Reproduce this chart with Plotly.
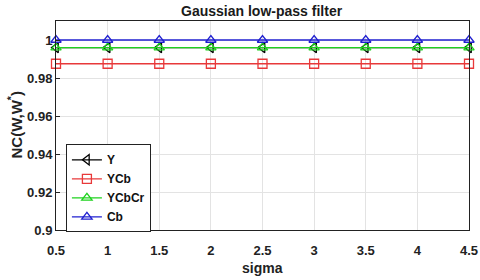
import plotly.graph_objects as go

sigma = [0.5, 1, 1.5, 2, 2.5, 3, 3.5, 4, 4.5]
nc_Y = [0.996] * 9
nc_YCb = [0.9875] * 9
nc_YCbCr = [0.996] * 9
nc_Cb = [1.0] * 9

x_ticks = [0.5, 1, 1.5, 2, 2.5, 3, 3.5, 4, 4.5]
x_ticktext = ["0.5", "1", "1.5", "2", "2.5", "3", "3.5", "4", "4.5"]
y_ticks = [0.9, 0.92, 0.94, 0.96, 0.98, 1.0]
y_ticktext = ["0.9", "0.92", "0.94", "0.96", "0.98", "1"]

series = [
    ("Y", nc_Y, "#000000", "triangle-left-open"),
    ("YCb", nc_YCb, "#e8393a", "square-open"),
    ("YCbCr", nc_YCbCr, "#1ed21e", "triangle-up-open"),
    ("Cb", nc_Cb, "#2020d0", "triangle-up-open"),
]

fig = go.Figure()
for name, vals, col, sym in series:
    fig.add_trace(go.Scatter(
        x=sigma, y=vals, name=name, mode="lines+markers",
        line=dict(color=col, width=1.3),
        marker=dict(symbol=sym, size=9, color=col, line=dict(width=1.3, color=col)),
        cliponaxis=False,
    ))

font_family = "Liberation Sans, Arial, sans-serif"
fig.update_layout(
    width=480, height=280,
    margin=dict(l=56, r=11, t=21, b=50, autoexpand=False),
    paper_bgcolor="white", plot_bgcolor="white",
    title=dict(text="<b>Gaussian low-pass filter</b>", x=0.545, xanchor="center",
               y=0.962, yanchor="middle", font=dict(family=font_family, size=14, color="#1a1a1a")),
    font=dict(family=font_family, color="#1a1a1a"),
    showlegend=True,
    legend=dict(x=0.024, y=0.41, xanchor="left", yanchor="top",
                bgcolor="white", bordercolor="#222", borderwidth=1,
                font=dict(family=font_family, size=12, color="#111", weight="bold"),
                tracegroupgap=0, itemwidth=30),
)
fig.update_xaxes(
    range=[0.5, 4.5], tickvals=x_ticks, ticktext=x_ticktext,
    showgrid=True, gridcolor="#e3e3e3", gridwidth=1,
    showline=True, linecolor="#222", linewidth=1, mirror=True,
    ticks="outside", ticklen=8, tickcolor="rgba(0,0,0,0)",
    tickfont=dict(family=font_family, size=13, color="#222", weight="bold"),
    zeroline=False, automargin=False,
)
fig.update_yaxes(
    range=[0.9, 1.01], tickvals=y_ticks, ticktext=y_ticktext,
    showgrid=True, gridcolor="#e3e3e3", gridwidth=1,
    showline=True, linecolor="#222", linewidth=1, mirror=True,
    ticks="inside", ticklen=4, tickcolor="#222",
    tickfont=dict(family=font_family, size=13, color="#222", weight="bold"),
    zeroline=False, automargin=False,
)
fig.add_annotation(text="<b>sigma</b>", xref="paper", yref="paper",
                   x=0.5, y=-38 / 209, xanchor="center", yanchor="middle", showarrow=False,
                   font=dict(family=font_family, size=14, color="#222"))
fig.add_annotation(text="<b>NC(W,W<sup>*</sup>)</b>", xref="paper", yref="paper",
                   x=-41 / 413, y=0.5, xanchor="center", yanchor="middle", showarrow=False,
                   textangle=-90, font=dict(family=font_family, size=15, color="#222"))
fig.write_html("out.html", config={"displayModeBar": False},
               post_script="document.body.style.margin='0px';")
